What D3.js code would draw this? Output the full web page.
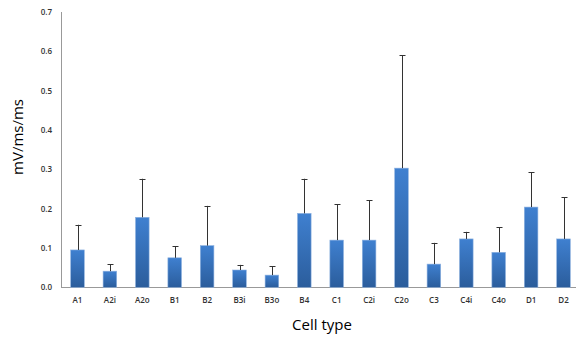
<!DOCTYPE html>
<html><head><meta charset="utf-8">
<script src="https://cdn.jsdelivr.net/npm/d3@7"></script>
<style>body{margin:0;background:#fff}svg{display:block}</style>
</head><body>
<script>
const categories = ["A1","A2i","A2o","B1","B2","B3i","B3o","B4","C1","C2i","C2o","C3","C4i","C4o","D1","D2"];
const means = [0.095,0.041,0.178,0.075,0.106,0.044,0.031,0.188,0.120,0.120,0.303,0.059,0.123,0.089,0.204,0.123];
const errTops = [0.159,0.059,0.276,0.104,0.207,0.057,0.053,0.276,0.211,0.221,0.590,0.113,0.141,0.153,0.293,0.229];
const yTicks = [0,0.1,0.2,0.3,0.4,0.5,0.6,0.7];

const W=576,H=337;
const svg=d3.select("body").append("svg").attr("width",W).attr("height",H);
const defs=svg.append("defs");
const g=defs.append("linearGradient").attr("id","bg").attr("x1",0).attr("y1",0).attr("x2",0).attr("y2",1);
g.append("stop").attr("offset","0%").attr("stop-color","#3F80D0");
g.append("stop").attr("offset","100%").attr("stop-color","#2B5D9C");

const x=d3.scaleBand().domain(categories).range([61.3,579.7]).paddingInner(0.58).paddingOuter(0.29);
const y=d3.scaleLinear().domain([0,0.7]).range([287.3,12]);

// axes
svg.append("line").attr("x1",61.5).attr("x2",61.5).attr("y1",y(0.7)).attr("y2",y(0)).attr("stroke","#999");
svg.append("line").attr("x1",61).attr("x2",W).attr("y1",287.5).attr("y2",287.5).attr("stroke","#999");

svg.append("g").selectAll("text").data(yTicks).join("text")
  .attr("x",52).attr("y",d=>y(d)+3).attr("text-anchor","end")
  .attr("font-family","Open Sans, sans-serif").attr("font-size",8).attr("font-weight","600").attr("fill","#333")
  .text(d=>d.toFixed(1));

svg.append("g").selectAll("text").data(categories).join("text")
  .attr("x",d=>x(d)+x.bandwidth()/2).attr("y",303).attr("text-anchor","middle")
  .attr("font-family","Open Sans, sans-serif").attr("font-size",8).attr("font-weight","600").attr("fill","#333")
  .text(d=>d);

// bars
svg.append("g").selectAll("rect").data(categories).join("rect")
  .attr("x",d=>x(d)).attr("width",x.bandwidth())
  .attr("y",(d,i)=>y(means[i])).attr("height",(d,i)=>y(0)-y(means[i]))
  .attr("fill","url(#bg)").attr("stroke","#8FB2E0").attr("stroke-width",0.6);

// error bars
const eb=svg.append("g").attr("stroke","#333").attr("stroke-width",1);
categories.forEach((c,i)=>{
  const cx=Math.round(x(c)+x.bandwidth()/2)+0.5;
  eb.append("line").attr("x1",cx).attr("x2",cx).attr("y1",y(means[i])).attr("y2",y(errTops[i]));
  eb.append("line").attr("x1",cx-3).attr("x2",cx+3).attr("y1",Math.round(y(errTops[i]))+0.5).attr("y2",Math.round(y(errTops[i]))+0.5);
});

svg.append("text").attr("x",322).attr("y",330).attr("text-anchor","middle")
  .attr("font-family","Open Sans, sans-serif").attr("font-size",15).attr("fill","#000").text("Cell type");
svg.append("text").attr("transform","translate(23,137) rotate(-90)").attr("text-anchor","middle")
  .attr("font-family","Open Sans, sans-serif").attr("font-size",15).attr("fill","#000").text("mV/ms/ms");
</script>
</body></html>
